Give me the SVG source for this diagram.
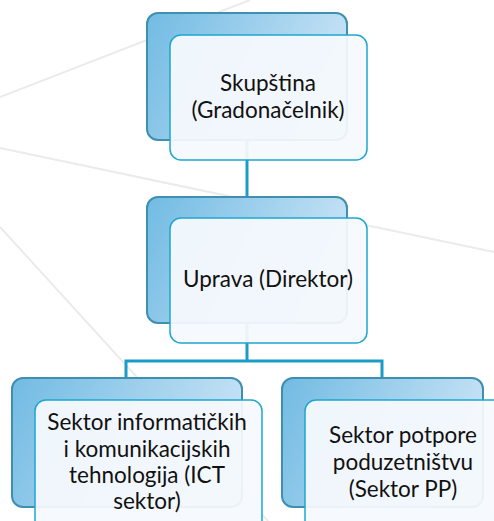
<svg xmlns="http://www.w3.org/2000/svg" width="494" height="521" viewBox="0 0 494 521">
<defs>
<linearGradient id="backGrad" x1="0" y1="0" x2="1" y2="0.3">
<stop offset="0" stop-color="#72bbe3"/>
<stop offset="1" stop-color="#c6e2f5"/>
</linearGradient>
<style>
.bg{stroke:#ebebeb;stroke-width:2;fill:none}
.back{fill:url(#backGrad);stroke:#3f8fae;stroke-width:2}
.front{fill:#f5f9fd;fill-opacity:0.94;stroke:#1ea6d0;stroke-width:1.5}
.conn{stroke:#1b9cc8;stroke-width:3;fill:none}
.t{font-family:Lato,"Open Sans","Liberation Sans",sans-serif;font-size:22.5px;fill:#111;text-anchor:middle}
</style>
</defs>
<rect width="494" height="521" fill="#ffffff"/>
<g id="background">
<line class="bg" x1="0" y1="97" x2="250" y2="0"/>
<line class="bg" x1="0" y1="148" x2="494" y2="252"/>
<line class="bg" x1="0" y1="227" x2="268" y2="521"/>
</g>
<g id="connectors">
<line class="conn" x1="247" y1="140" x2="247" y2="197"/>
<path class="conn" d="M247 323 V361 M126 361 H382 M126 359.5 V378 M382 359.5 V378"/>
</g>
<g id="node-skupstina">
<rect class="back" x="147" y="13" width="200" height="127" rx="11"/>
<rect class="front" x="170" y="35" width="197" height="125" rx="11"/>
<text class="t" x="268" y="91">Skupština</text>
<text class="t" x="268" y="118">(Gradonačelnik)</text>
</g>
<g id="node-uprava">
<rect class="back" x="147" y="197" width="200" height="126" rx="11"/>
<rect class="front" x="170" y="218" width="197" height="125" rx="11"/>
<text class="t" x="268" y="287">Uprava (Direktor)</text>
</g>
<g id="node-ict">
<rect class="back" x="12" y="378" width="230" height="129" rx="11"/>
<rect class="front" x="35" y="400" width="227" height="135" rx="11"/>
<text class="t" x="147" y="430">Sektor informatičkih</text>
<text class="t" x="147" y="457">i komunikacijskih</text>
<text class="t" x="147" y="483">tehnologija (ICT</text>
<text class="t" x="147" y="509">sektor)</text>
</g>
<g id="node-pp">
<rect class="back" x="282" y="378" width="201" height="129" rx="11"/>
<rect class="front" x="305" y="400" width="227" height="135" rx="11"/>
<text class="t" x="403" y="443">Sektor potpore</text>
<text class="t" x="403" y="470">poduzetništvu</text>
<text class="t" x="403" y="497">(Sektor PP)</text>
</g>
</svg>
